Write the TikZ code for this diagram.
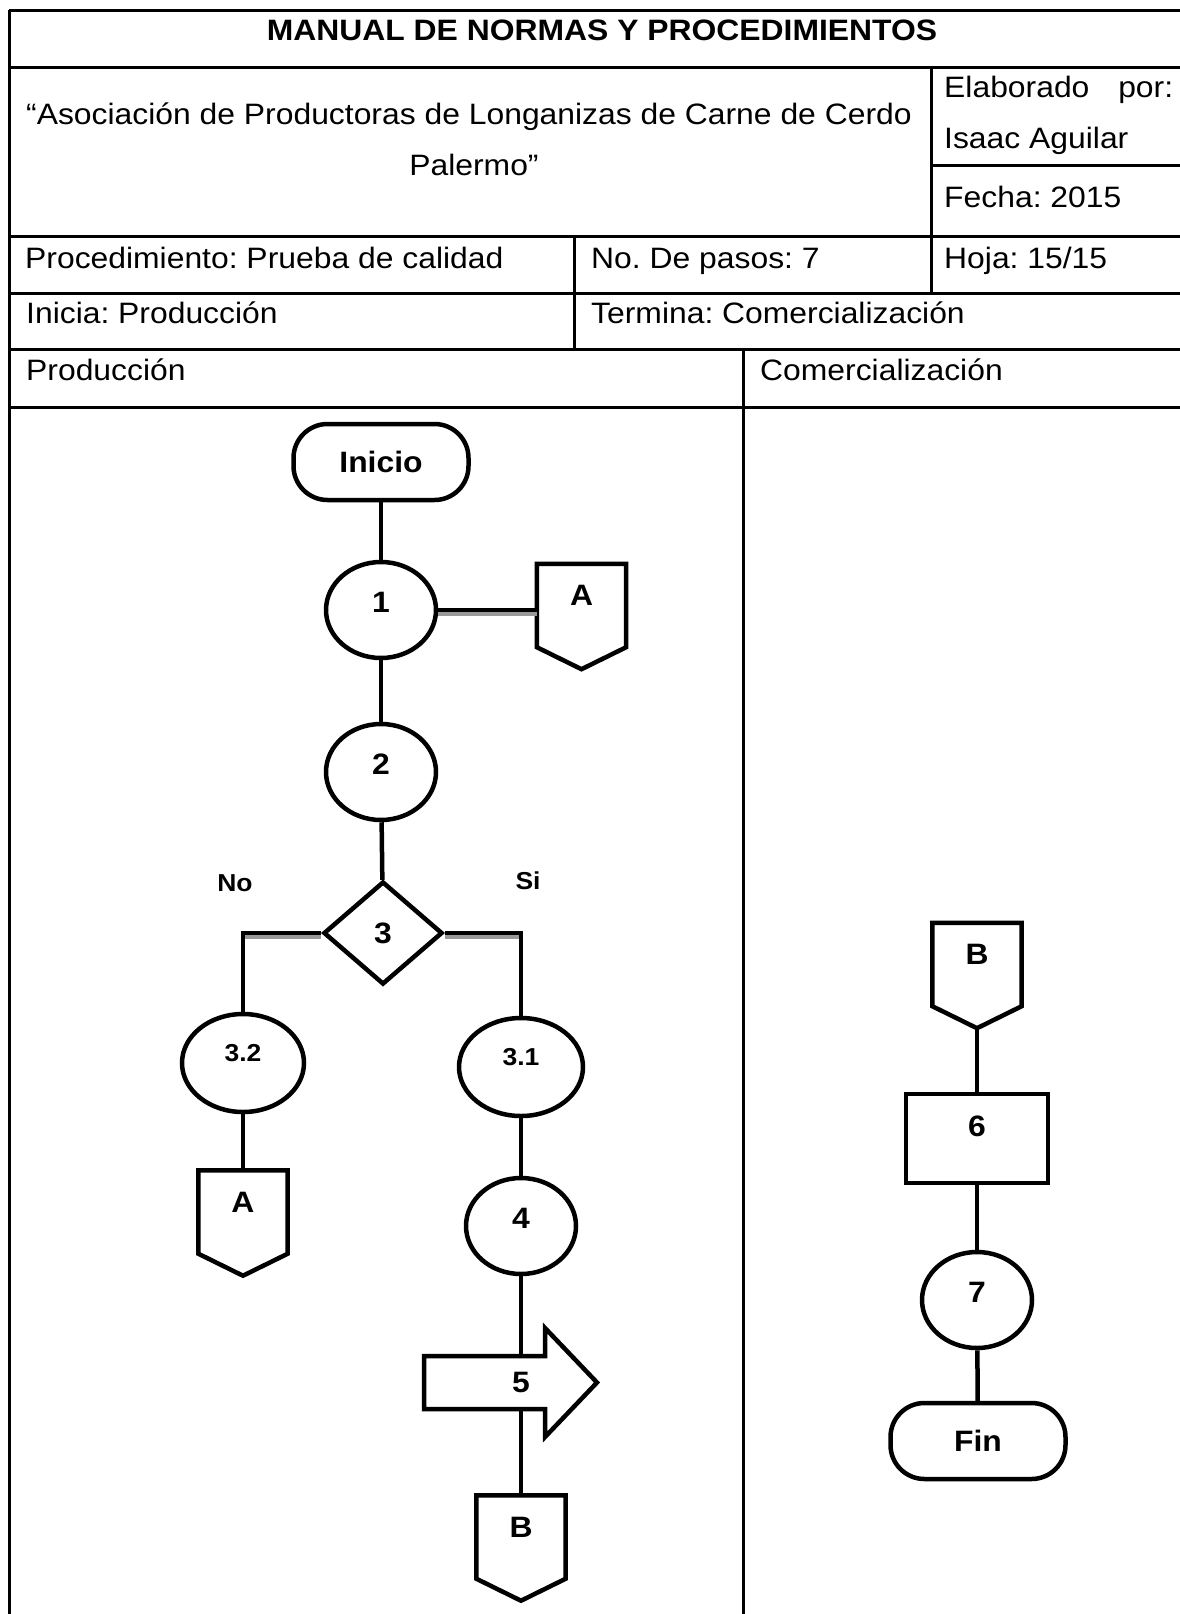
\documentclass[tikz,border=0pt]{standalone}
\usepackage{fontspec}
\setmainfont{Liberation Sans}[FakeStretch=1.08]
\frenchspacing
\usetikzlibrary{calc,shapes.geometric}
\def\conector(#1)(#2)#3{\node[marco] (#1) at (#2) {};
	\draw[fig] (#1.north west) -- (#1.north east) -- ($(#1.south east)+(0, -22)$) -- (#1.south) -- ($(#1.south west)+(0, -22)$) -- cycle;
	\node[etiq] (#1t) at ($(#1.north)+(0, 32)$) {#3};}
\tikzset{
	tabla/.style={line width=3pt},
	union/.style={line width=4.5pt},
	sombra/.style={line width=4.5pt, color=black!40},
	fig/.style={line width=4.5pt, draw=black, fill=white},
	txt/.style={anchor=base west, inner sep=0pt, font=\fontsize{29.5}{35}\selectfont},
	titulo/.style={anchor=base, inner sep=0pt, font=\fontsize{29.5}{35}\selectfont\bfseries},
	etiq/.style={inner sep=0pt, font=\fontsize{29.5}{35}\selectfont\bfseries},
	chico/.style={inner sep=0pt, font=\fontsize{24.5}{29}\selectfont\bfseries},
	marco/.style={draw=none, inner sep=0pt, minimum width=89pt, minimum height=105pt},
	paso/.style={fig, ellipse, etiq, minimum width=110pt, minimum height=96pt, text height=20pt, text depth=16pt},
	subpaso/.style={fig, ellipse, chico, minimum width=122pt, minimum height=98pt, text height=18pt, text depth=21pt},
	caja/.style={fig, rectangle, etiq, minimum width=142pt, minimum height=89pt, text height=20pt, text depth=24pt},
	limite/.style={fig, rectangle, etiq, rounded corners=34pt, minimum width=175pt, minimum height=76pt},
	decision/.style={fig, diamond, etiq, minimum width=119pt, minimum height=103pt}
}

\begin{document}
\begin{tikzpicture}[x=1pt, y=-1pt]
		%%%%% START %%%%%
		\useasboundingbox (0, 0) rectangle (1180, 1614);
		\clip (0, 0) rectangle (1180, 1614);
		
		\draw[tabla] (9, 10) -- (1195, 10);
		\draw[tabla] (9, 67) -- (1195, 67);
		\draw[tabla] (9, 236.5) -- (1195, 236.5);
		\draw[tabla] (9, 293) -- (1195, 293);
		\draw[tabla] (9, 349) -- (1195, 349);
		\draw[tabla] (9, 407) -- (1195, 407);
		\draw[tabla] (931, 165) -- (1195, 165);
		
		\draw[tabla] (9, 10) -- (9, 1650);
		\draw[tabla] (931, 67) -- (931, 293);
		\draw[tabla] (574, 236.5) -- (574, 349);
		\draw[tabla] (743, 349) -- (743, 1650);
		
		\node[titulo] (tit) at (602, 40) {MANUAL DE NORMAS Y PROCEDIMIENTOS};
		\node[txt] (asoc) at (26, 124) {“Asociación de Productoras de Longanizas de Carne de Cerdo};
		\node[txt, anchor=base] (pal) at (474, 175) {Palermo”};
		\node[txt] (elab) at (944, 97) {\makebox[229pt][s]{Elaborado por:}};
		\node[txt] (isaac) at (944, 148) {Isaac Aguilar};
		\node[txt] (fecha) at (944, 207) {Fecha: 2015};
		\node[txt] (proc) at (25, 268) {Procedimiento: Prueba de calidad};
		\node[txt] (pasos) at (591, 268) {No. De pasos: 7};
		\node[txt] (hoja) at (944, 268) {Hoja: 15/15};
		\node[txt] (ini) at (26, 323.5) {Inicia: Producción};
		\node[txt] (ter) at (591, 323.5) {Termina: Comercialización};
		\node[txt] (prod) at (26, 380) {Producción};
		\node[txt] (com) at (760, 380) {Comercialización};
		
		% produccion
		\node[limite] (inicio) at (381, 462) {Inicio};
		\node[paso] (p1) at (381, 610) {1};
		\conector(A1)(581.5, 616.5){A}
		\node[paso] (p2) at (381, 772) {2};
		\node[decision] (p3) at (383, 933) {3};
		\node[chico] (no) at (235, 883) {No};
		\node[chico] (si) at (528, 881) {Si};
		
		\node[subpaso] (p32) at (243, 1063) {3.2};
		\conector(A2)(243, 1223){A}
		\node[subpaso, minimum width=124pt] (p31) at (521, 1067) {3.1};
		\node[paso] (p4) at (521, 1226) {4};
		
		\draw[fig] (424, 1356) -- (545, 1356) -- (545, 1328) -- (597, 1382.5) -- (545, 1437) -- (545, 1409) -- (424, 1409) -- cycle;
		\node[etiq, minimum height=53pt] (p5) at (521, 1382.5) {5};
		\conector(B1)(521, 1548){B}
		
		\draw[union] (inicio) -- (p1);
		\draw[sombra] ([yshift=-4pt]p1.east) -- ([yshift=-4pt]p1.east -| A1.west);
		\draw[union] (p1.east) -- (p1.east -| A1.west);
		\draw[union] (p1) -- (p2);
		\draw[union] (p2) -- (p3);
		\draw[sombra] ([yshift=-4pt]p3.west) -- ([yshift=-4pt]p3.west -| p32.north);
		\draw[union] (p3.west) -| (p32.north);
		\draw[sombra] ([yshift=-4pt]p3.east) -- ([yshift=-4pt]p3.east -| p31.north);
		\draw[union] (p3.east) -| (p31.north);
		\draw[union] (p32) -- (A2);
		\draw[union] (p31) -- (p4);
		\draw[union] (p4) -- (p5);
		\draw[union] (p5) -- (B1);
		
		% comercializacion
		\conector(B2)(977, 975.5){B}
		\node[caja] (p6) at (977, 1138.5) {6};
		\node[paso] (p7) at (977, 1300) {7};
		\node[limite] (fin) at (978, 1441) {Fin};
		
		\draw[union] (B2.south) -- (p6);
		\draw[union] (p6) -- (p7);
		\draw[union] (p7) -- (fin);
		
		%%%%% END %%%%%
	\end{tikzpicture}
\end{document}
